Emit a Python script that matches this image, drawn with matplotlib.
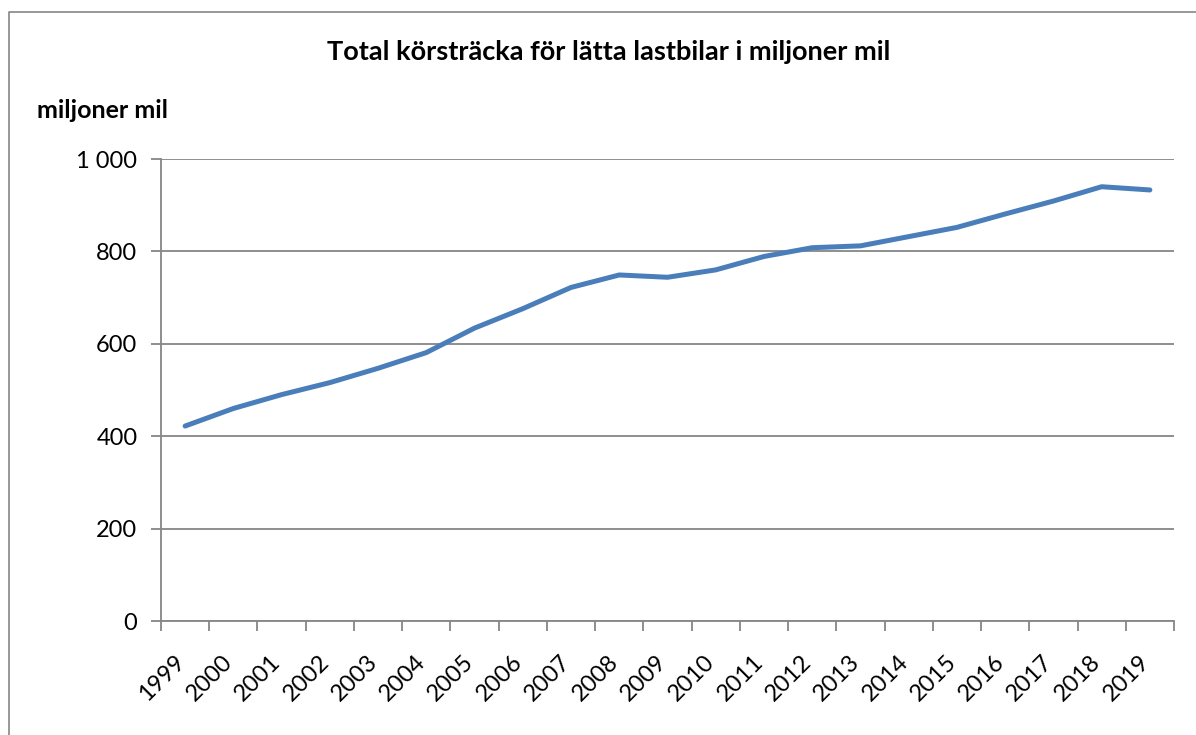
import matplotlib
matplotlib.use("Agg")
import matplotlib.pyplot as plt
from matplotlib.lines import Line2D
from matplotlib.ticker import FuncFormatter

# data
years = [str(y) for y in range(1999, 2020)]
mil = [422, 460, 490, 516, 547, 581, 634, 676, 722, 749, 744,
       760, 789, 808, 812, 832, 852, 881, 909, 940, 933]

plt.rcParams['font.family'] = ['Lato', 'DejaVu Sans']

W, H = 1196, 735
fig = plt.figure(figsize=(W / 100, H / 100), dpi=100)
ax = fig.add_axes([161 / W, 1 - 621 / H, (1174 - 161) / W, (621 - 159) / H])

x = list(range(len(years)))
ax.plot(x, mil, color='#4A7EBB', lw=3.6, solid_capstyle='round', solid_joinstyle='round', zorder=3)

ax.set_xlim(-0.5, len(years) - 0.5)
ax.set_ylim(0, 1000)
ax.set_yticks(range(0, 1001, 200))
ax.yaxis.set_major_formatter(FuncFormatter(lambda v, p: f"{int(v):,}".replace(",", " ")))
ax.grid(axis='y', color='#868686', lw=1.3)
ax.set_axisbelow(True)

# category axis with ticks between labels
ax.set_xticks([i - 0.5 for i in range(len(years) + 1)])
ax.set_xticklabels([])
ax.tick_params(axis='x', length=7, color='#868686', width=1.3)
ax.tick_params(axis='y', length=7, color='#868686', width=1.3, labelsize=17, pad=10)
for i, yr in enumerate(years):
    ax.annotate(yr, xy=(i, 0), xycoords=('data', 'axes fraction'),
                xytext=(-3, -27), textcoords='offset points',
                rotation=45, ha='right', va='center', rotation_mode='anchor',
                fontsize=17)

for s in ['top', 'right']:
    ax.spines[s].set_visible(False)
for s in ['left', 'bottom']:
    ax.spines[s].set_color('#868686')
    ax.spines[s].set_linewidth(1.3)

fig.text(609 / W, 1 - 52 / H, 'Total körsträcka för lätta lastbilar i miljoner mil',
         ha='center', va='center', fontsize=19.5, fontweight='bold')
fig.text(37 / W, 1 - 110 / H, 'miljoner mil', ha='left', va='center',
         fontsize=18, fontweight='bold')

# outer chart border (left and top only visible)
fig.add_artist(Line2D([9 / W, 9 / W, 1.01], [-0.01, 1 - 12 / H, 1 - 12 / H],
                      transform=fig.transFigure, color='#868686', lw=1.2))

fig.savefig('out.png', dpi=100)
